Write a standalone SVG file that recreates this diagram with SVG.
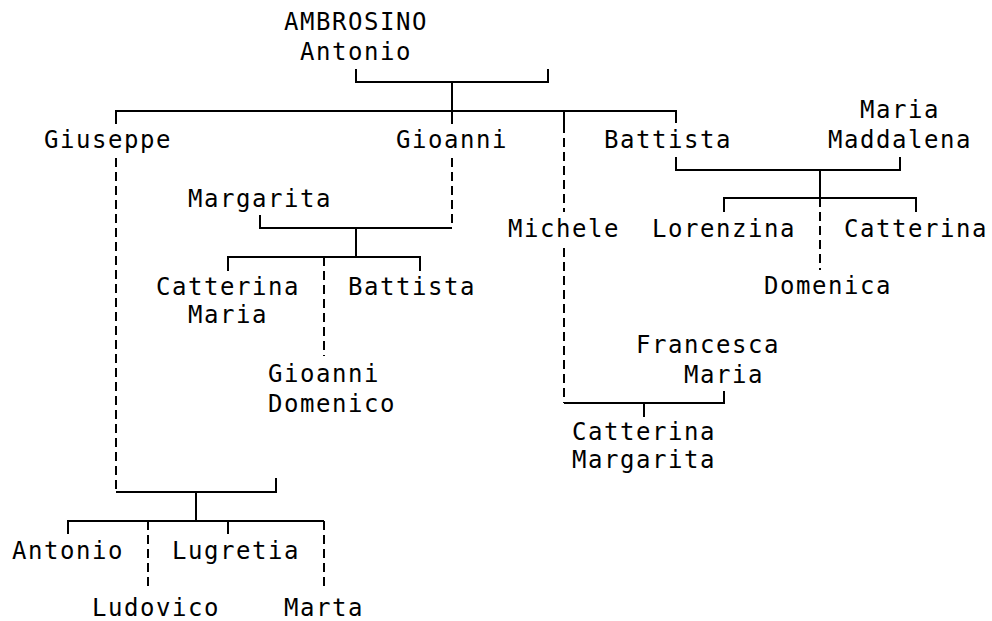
<svg xmlns="http://www.w3.org/2000/svg" width="992" height="621" viewBox="0 0 992 621">
<style>
text{font-family:"DejaVu Sans Mono","Liberation Mono",monospace;font-size:24px;letter-spacing:1.55px;fill:#000}
.s{stroke:#000;stroke-width:2;fill:none}
.d{stroke:#000;stroke-width:2;fill:none;stroke-dasharray:9 5}
</style>
<rect width="992" height="621" fill="#fff"/>
<g id="connectors">
<path class="s" d="M356 69V82H548V69M452 82V111M116 124V111H676V123M452 111V124M564 111V124"/>
<path class="d" d="M116 158V492M452 158V228M564 124V212M564 248V403M820 198V270M324 257V356M148 521V590M324 521V590"/>
<path class="s" d="M676 157V170H900V157M820 170V198M724 212V198H916V212"/>
<path class="s" d="M260 215V228H452M356 228V257M228 271V257H420V271"/>
<path class="s" d="M564 403H724V391M644 403V417"/>
<path class="s" d="M116 492H276V478M196 492V521M68 534V521H324M228 521V534"/>
</g>
<g id="ambrosino-antonio"><text x="284" y="30">AMBROSINO</text><text x="300" y="60">Antonio</text></g>
<g id="giuseppe"><text x="44" y="148">Giuseppe</text></g>
<g id="gioanni"><text x="396" y="148">Gioanni</text></g>
<g id="battista"><text x="604" y="148">Battista</text></g>
<g id="maria-maddalena"><text x="860" y="118">Maria</text><text x="828" y="148">Maddalena</text></g>
<g id="margarita"><text x="188" y="207">Margarita</text></g>
<g id="michele"><text x="508" y="237">Michele</text></g>
<g id="lorenzina"><text x="652" y="237">Lorenzina</text></g>
<g id="catterina-r"><text x="844" y="237">Catterina</text></g>
<g id="catterina-maria"><text x="156" y="295">Catterina</text><text x="188" y="323">Maria</text></g>
<g id="battista-2"><text x="348" y="295">Battista</text></g>
<g id="domenica"><text x="764" y="294">Domenica</text></g>
<g id="francesca-maria"><text x="636" y="353">Francesca</text><text x="684" y="383">Maria</text></g>
<g id="gioanni-domenico"><text x="268" y="382">Gioanni</text><text x="268" y="412">Domenico</text></g>
<g id="catterina-margarita"><text x="572" y="440">Catterina</text><text x="572" y="468">Margarita</text></g>
<g id="antonio"><text x="12" y="559">Antonio</text></g>
<g id="lugretia"><text x="172" y="559">Lugretia</text></g>
<g id="ludovico"><text x="92" y="616">Ludovico</text></g>
<g id="marta"><text x="284" y="616">Marta</text></g>
</svg>
